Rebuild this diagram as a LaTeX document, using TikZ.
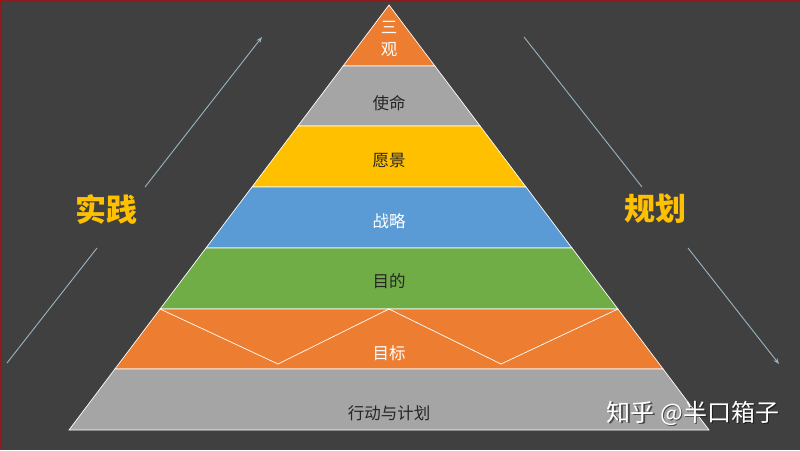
\documentclass[tikz,border=0pt]{standalone}
\usepackage{fontspec}
\setmainfont{Noto Sans CJK SC}
\usetikzlibrary{arrows.meta}
\definecolor{bg}{HTML}{404040}
\definecolor{porange}{HTML}{ED7D31}
\definecolor{pgray}{HTML}{A5A5A5}
\definecolor{pyellow}{HTML}{FFC000}
\definecolor{pblue}{HTML}{5B9BD5}
\definecolor{pgreen}{HTML}{70AD47}
\definecolor{darktext}{HTML}{262626}
\definecolor{arrowcol}{HTML}{9AB3C2}
\definecolor{edgered}{HTML}{8E1C1C}
\begin{document}
\begin{tikzpicture}[x=1pt,y=-1pt,
  layer/.style={draw=white, line width=0.7pt, line join=miter},
  lbl/.style={font=\fontsize{16.5}{17}\selectfont, inner sep=0pt},
  side/.style={font=\fontsize{31}{31}\selectfont\bfseries, text=pyellow, inner sep=0pt},
  arr/.style={draw=arrowcol, line width=0.9pt},
  wmark/.style={font=\fontsize{24}{24}\selectfont, inner sep=0pt}]
\fill[bg] (0,0) rectangle (800,450);
\useasboundingbox (0,0) rectangle (800,450);
\draw[edgered, line width=2pt] (1,450) -- (1,1) -- (800,1);
% pyramid corners
\coordinate (apex) at (389,5);
\coordinate (l1) at (343.1,66);  \coordinate (r1) at (434.9,66);
\coordinate (l2) at (297.9,126); \coordinate (r2) at (480.1,126);
\coordinate (l3) at (252.0,187); \coordinate (r3) at (526.0,187);
\coordinate (l4) at (206.0,248); \coordinate (r4) at (572.0,248);
\coordinate (l5) at (160.1,309); \coordinate (r5) at (617.9,309);
\coordinate (l6) at (114.9,369); \coordinate (r6) at (663.1,369);
\coordinate (l7) at (69,430);    \coordinate (r7) at (709,430);
% layers
\filldraw[layer, fill=porange] (apex) -- (r1) -- (l1) -- cycle;
\filldraw[layer, fill=pgray] (l1) -- (r1) -- (r2) -- (l2) -- cycle;
\filldraw[layer, fill=pyellow] (l2) -- (r2) -- (r3) -- (l3) -- cycle;
\filldraw[layer, fill=pblue] (l3) -- (r3) -- (r4) -- (l4) -- cycle;
\filldraw[layer, fill=pgreen] (l4) -- (r4) -- (r5) -- (l5) -- cycle;
\filldraw[layer, fill=porange] (l5) -- (r5) -- (r6) -- (l6) -- cycle;
\filldraw[layer, fill=pgray] (l6) -- (r6) -- (r7) -- (l7) -- cycle;
% zigzag
\coordinate (z1) at (278,364);
\coordinate (z2) at (389,309);
\coordinate (z3) at (501,364);
\draw[white, line width=0.7pt, line join=miter] (l5) -- (z1) -- (z2) -- (z3) -- (r5);
% labels
\node[lbl, text=white] (t1a) at (389,27) {三};
\node[lbl, text=white] (t1b) at (389,50) {观};
\node[lbl, text=darktext] (t2) at (389,103) {使命};
\node[lbl, text=darktext] (t3) at (389,161) {愿景};
\node[lbl, text=white] (t4) at (389,221) {战略};
\node[lbl, text=darktext] (t5) at (389,281) {目的};
\node[lbl, text=white] (t6) at (389,353) {目标};
\node[lbl, text=darktext] (t7) at (389,413) {行动与计划};
% side labels
\node[side] (shijian) at (106,209) {实践};
\node[side] (guihua) at (655,209) {规划};
% arrows
\coordinate (la1) at (7,363);  \coordinate (la2) at (97,248);
\coordinate (la3) at (145,187); \coordinate (la4) at (262,37);
\coordinate (ra1) at (524,37); \coordinate (ra2) at (642,187);
\coordinate (ra3) at (688,248); \coordinate (ra4) at (779,364);
\draw[arr] (la1) -- (la2);
\draw[arr, -{Stealth[length=6pt,width=4.5pt]}] (la3) -- (la4);
\draw[arr] (ra1) -- (ra2);
\draw[arr, -{Stealth[length=6pt,width=4.5pt]}] (ra3) -- (ra4);
% watermark
\node[wmark, text=black, opacity=0.55] (wms) at (694.5,414.5) {知乎 @半口箱子};
\node[wmark, text=white] (wm) at (693,413) {知乎 @半口箱子};
\end{tikzpicture}
\end{document}
